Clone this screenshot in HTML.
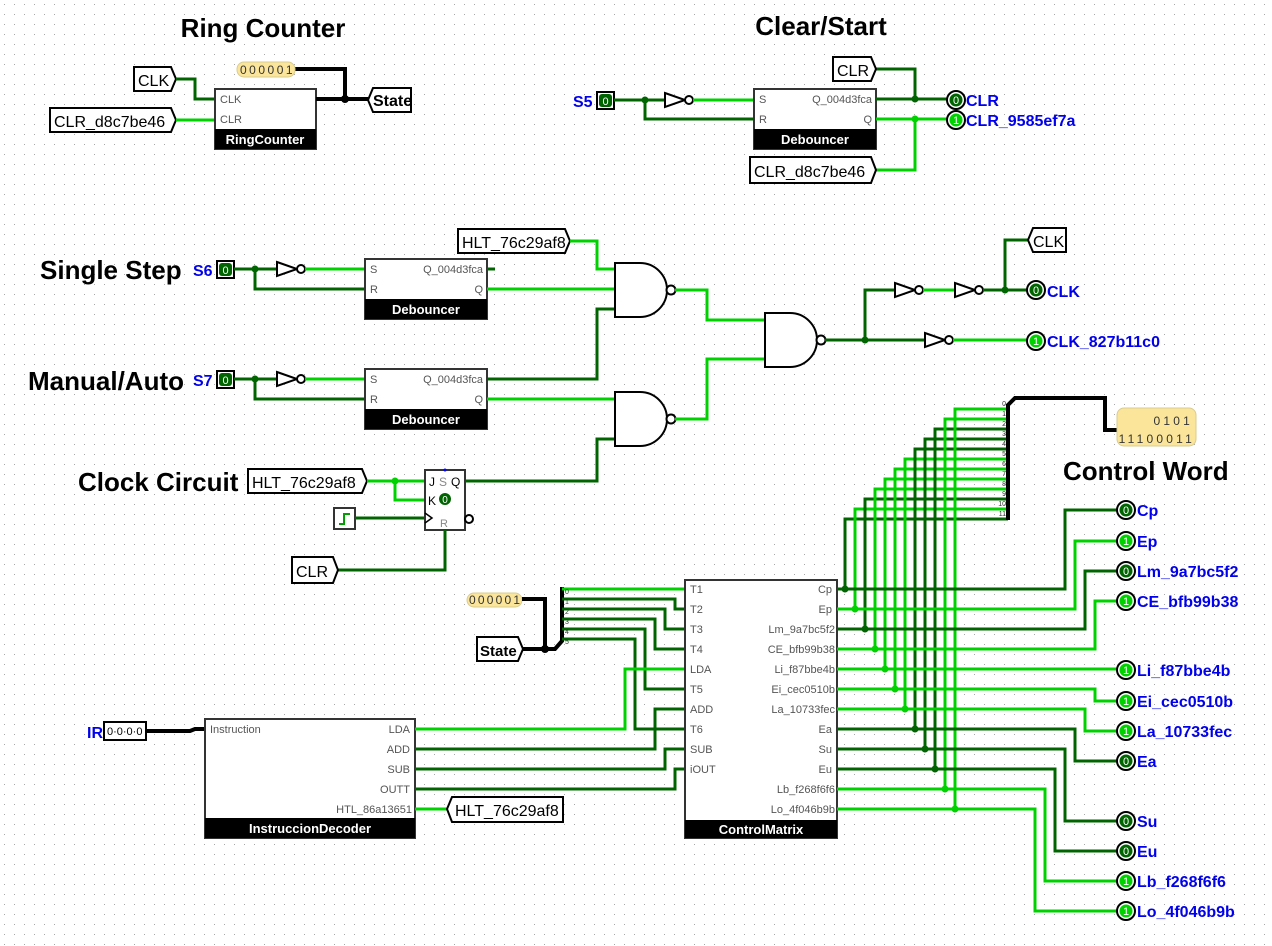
<!DOCTYPE html>
<html><head><meta charset="utf-8"><style>
html,body{margin:0;padding:0;background:#fff}
svg{display:block}
text{font-family:"Liberation Sans",Arial,sans-serif}
.d{fill:none;stroke:#006400;stroke-width:3}
.l{fill:none;stroke:#00d200;stroke-width:3}
.b{fill:none;stroke:#000;stroke-width:4}
.g{fill:#fff;stroke:#000;stroke-width:2}
.box{fill:#fff;stroke:#333;stroke-width:2}
.t{font-size:26px;font-weight:bold;fill:#000}
.tn{font-size:16px;fill:#000}
.bl{font-size:16px;font-weight:bold;fill:#0000ee}
.pl{font-size:11px;fill:#555}
.bar{font-size:13px;font-weight:bold;fill:#fff}
.pr{fill:#fbe59a;stroke:#d8cc90;stroke-width:1}
.sm{font-size:7px;fill:#333}
</style></head><body>
<svg width="1272" height="946" viewBox="0 0 1272 946" xmlns="http://www.w3.org/2000/svg">
<defs><pattern id="grid" width="10" height="10" patternUnits="userSpaceOnUse"><rect x="4" y="4" width="1" height="1" fill="#a8a8a8"/></pattern>
<g id="p0"><circle r="9" fill="#fff" stroke="#000" stroke-width="2"/><circle r="6.5" fill="#006400"/><text y="4" text-anchor="middle" font-size="11" fill="#fff">0</text></g>
<g id="p1"><circle r="9" fill="#fff" stroke="#000" stroke-width="2"/><circle r="6.5" fill="#00d200"/><text y="4" text-anchor="middle" font-size="11" fill="#fff">1</text></g>
</defs>
<rect width="1272" height="946" fill="url(#grid)"/>

<!-- Titles -->
<text class="t" x="263" y="37" text-anchor="middle">Ring Counter</text>
<text class="t" x="821" y="35" text-anchor="middle">Clear/Start</text>
<text class="t" x="40" y="279">Single Step</text>
<text class="t" x="28" y="390">Manual/Auto</text>
<text class="t" x="78" y="491">Clock Circuit</text>
<text class="t" x="1063" y="480">Control Word</text>

<!-- Ring counter -->
<path class="g" d="M134,67 H171 L176,79 L171,91 H134 Z"/><text class="tn" x="138" y="86">CLK</text>
<path class="g" d="M50,108 H171 L176,120 L171,132 H50 Z"/><text class="tn" x="54" y="127">CLR_d8c7be46</text>
<polyline class="d" points="176,79 195,79 195,99 215,99"/>
<polyline class="l" points="176,120 215,120"/>
<rect class="box" x="215" y="89" width="101" height="60"/><rect x="215" y="129" width="101" height="20" fill="#000"/>
<text class="bar" x="265" y="144" text-anchor="middle">RingCounter</text>
<text class="pl" x="220" y="103">CLK</text><text class="pl" x="220" y="123">CLR</text>
<polyline class="b" points="316,99 368,99"/><polyline class="b" points="295,69 345,69 345,99"/><circle cx="345" cy="99" r="4"/>
<rect class="pr" x="237" y="62" width="58" height="15" rx="7"/><text x="240" y="74" font-size="12" fill="#333" letter-spacing="2.5">000001</text>
<path class="g" d="M368,100 L373,88 H411 V112 H373 Z"/><text class="tn" x="373" y="106" font-weight="bold" font-size="15">State</text>

<!-- Clear/Start -->
<text class="bl" x="573" y="107">S5</text>
<rect x="597" y="92" width="17" height="17" fill="#fff" stroke="#000" stroke-width="2"/><rect x="599" y="94" width="13" height="13" rx="3" fill="#006400"/><text x="605.5" y="105" font-size="11" fill="#fff" text-anchor="middle">0</text>
<polyline class="d" points="614,100 665,100"/><polyline class="d" points="645,100 645,119 754,119"/><circle cx="645" cy="100" r="3.5" fill="#006400"/>
<polygon class="g" points="665,93 685,100 665,107"/><circle class="g" cx="689" cy="100" r="4"/>
<polyline class="l" points="693,100 754,100"/>
<rect class="box" x="754" y="89" width="122" height="60"/><rect x="754" y="129" width="122" height="20" fill="#000"/>
<text class="bar" x="815" y="144" text-anchor="middle">Debouncer</text>
<text class="pl" x="759" y="103">S</text><text class="pl" x="759" y="123">R</text><text class="pl" x="872" y="103" text-anchor="end">Q_004d3fca</text><text class="pl" x="872" y="123" text-anchor="end">Q</text>
<polyline class="d" points="876,99 947,99"/><polyline class="d" points="915,99 915,69 876,69"/><circle cx="915" cy="99" r="3.5" fill="#006400"/>
<polyline class="l" points="876,119 947,119"/><polyline class="l" points="915,119 915,170 876,170"/><circle cx="915" cy="119" r="3.5" fill="#00d200"/>
<path class="g" d="M833,57 H871 L876,69 L871,81 H833 Z"/><text class="tn" x="837" y="76">CLR</text>
<path class="g" d="M750,157 H871 L876,170 L871,183 H750 Z"/><text class="tn" x="754" y="177">CLR_d8c7be46</text>
<use href="#p0" x="956" y="100"/><use href="#p1" x="956" y="120"/>
<text class="bl" x="966" y="106">CLR</text><text class="bl" x="966" y="126">CLR_9585ef7a</text>

<!-- Single step -->
<text class="bl" x="193" y="276">S6</text>
<rect x="217" y="261" width="17" height="17" fill="#fff" stroke="#000" stroke-width="2"/><rect x="219" y="263" width="13" height="13" rx="3" fill="#006400"/><text x="225.5" y="274" font-size="11" fill="#fff" text-anchor="middle">0</text>
<polyline class="d" points="234,269 277,269"/><polyline class="d" points="255,269 255,289 365,289"/><circle cx="255" cy="269" r="3.5" fill="#006400"/>
<polygon class="g" points="277,262 297,269 277,276"/><circle class="g" cx="301" cy="269" r="4"/>
<polyline class="l" points="305,269 365,269"/>
<rect class="box" x="365" y="259" width="122" height="60"/><rect x="365" y="299" width="122" height="20" fill="#000"/>
<text class="bar" x="426" y="314" text-anchor="middle">Debouncer</text>
<text class="pl" x="370" y="273">S</text><text class="pl" x="370" y="293">R</text><text class="pl" x="483" y="273" text-anchor="end">Q_004d3fca</text><text class="pl" x="483" y="293" text-anchor="end">Q</text>
<polyline class="d" points="487,269 495,269"/>
<polyline class="l" points="487,289 615,289"/>
<path class="g" d="M458,229 H565 L570,241 L565,253 H458 Z"/><text class="tn" x="462" y="248">HLT_76c29af8</text>
<polyline class="l" points="570,241 597,241 597,269 615,269"/>
<polyline class="d" points="487,379 597,379 597,309 615,309"/>

<!-- Manual/Auto -->
<text class="bl" x="193" y="386">S7</text>
<rect x="217" y="371" width="17" height="17" fill="#fff" stroke="#000" stroke-width="2"/><rect x="219" y="373" width="13" height="13" rx="3" fill="#006400"/><text x="225.5" y="384" font-size="11" fill="#fff" text-anchor="middle">0</text>
<polyline class="d" points="234,379 277,379"/><polyline class="d" points="255,379 255,399 365,399"/><circle cx="255" cy="379" r="3.5" fill="#006400"/>
<polygon class="g" points="277,372 297,379 277,386"/><circle class="g" cx="301" cy="379" r="4"/>
<polyline class="l" points="305,379 365,379"/>
<rect class="box" x="365" y="369" width="122" height="60"/><rect x="365" y="409" width="122" height="20" fill="#000"/>
<text class="bar" x="426" y="424" text-anchor="middle">Debouncer</text>
<text class="pl" x="370" y="383">S</text><text class="pl" x="370" y="403">R</text><text class="pl" x="483" y="383" text-anchor="end">Q_004d3fca</text><text class="pl" x="483" y="403" text-anchor="end">Q</text>
<polyline class="l" points="487,399 615,399"/>
<polyline class="d" points="465,481 597,481 597,439 615,439"/>

<!-- NAND gates -->
<path class="g" d="M615,263 H640 A27,27 0 0 1 640,317 H615 Z"/><circle class="g" cx="671" cy="290" r="4.5"/>
<path class="g" d="M615,392 H640 A27,27 0 0 1 640,446 H615 Z"/><circle class="g" cx="671" cy="419" r="4.5"/>
<polyline class="l" points="675,290 707,290 707,320 765,320"/>
<polyline class="l" points="675,419 707,419 707,359 765,359"/>
<path class="g" d="M765,313 H790 A27,27 0 0 1 790,367 H765 Z"/><circle class="g" cx="821" cy="340" r="4.5"/>
<polyline class="d" points="825,340 925,340"/><polyline class="d" points="865,340 865,290 895,290"/><circle cx="865" cy="340" r="3.5" fill="#006400"/>
<polygon class="g" points="895,283 915,290 895,297"/><circle class="g" cx="919" cy="290" r="4"/>
<polyline class="l" points="923,290 955,290"/>
<polygon class="g" points="955,283 975,290 955,297"/><circle class="g" cx="979" cy="290" r="4"/>
<polyline class="d" points="983,290 1027,290"/><polyline class="d" points="1005,290 1005,240 1028,240"/><circle cx="1005" cy="290" r="3.5" fill="#006400"/>
<path class="g" d="M1028,240 L1033,228 H1066 V252 H1033 Z"/><text class="tn" x="1033" y="247">CLK</text>
<use href="#p0" x="1036" y="290"/><text class="bl" x="1047" y="297">CLK</text>
<polygon class="g" points="925,333 945,340 925,347"/><circle class="g" cx="949" cy="340" r="4"/>
<polyline class="l" points="953,340 1027,340"/>
<use href="#p1" x="1036" y="341"/><text class="bl" x="1047" y="347">CLK_827b11c0</text>

<!-- Clock circuit -->
<path class="g" d="M248,469 H362 L367,481 L362,493 H248 Z"/><text class="tn" x="252" y="488">HLT_76c29af8</text>
<polyline class="l" points="367,481 425,481"/><polyline class="l" points="395,481 395,500 425,500"/><circle cx="395" cy="481" r="3.5" fill="#00d200"/>
<rect x="334" y="508" width="21" height="21" fill="#fff" stroke="#333" stroke-width="2"/>
<path d="M339,524 H344 V514 H350" fill="none" stroke="#00a000" stroke-width="2"/>
<polyline class="d" points="355,518 425,518"/>
<rect class="box" x="425" y="470" width="40" height="60"/>
<text x="429" y="486" font-size="12" fill="#000">J</text><text x="439" y="486" font-size="12" fill="#888">S</text><text x="451" y="486" font-size="12" fill="#000">Q</text>
<text x="428" y="505" font-size="12" fill="#000">K</text><circle cx="445" cy="499" r="6" fill="#006400"/><text x="445" y="503" font-size="10" fill="#fff" text-anchor="middle">0</text>
<polyline points="425,513 432,518 425,523" fill="none" stroke="#000" stroke-width="1.5"/><text x="440" y="527" font-size="11" fill="#888">R</text>
<circle cx="445" cy="470" r="1.5" fill="#00f"/>
<circle class="g" cx="469" cy="519" r="4"/>
<polyline class="d" points="445,530 445,570 338,570"/>
<path class="g" d="M292,557 H333 L338,570 L333,583 H292 Z"/><text class="tn" x="296" y="577">CLR</text>

<!-- State splitter -->
<rect class="pr" x="467" y="593" width="55" height="14" rx="7"/><text x="469" y="604" font-size="12" fill="#333" letter-spacing="2.2">000001</text>
<polyline class="b" points="522,599 545,599 545,649"/>
<path class="g" d="M477,637 H518 L523,649 L518,661 H477 Z"/><text x="480" y="656" font-size="15" font-weight="bold">State</text>
<polyline class="b" points="523,649 555,649 562,641 562,587"/><circle cx="545" cy="649" r="4"/>
<polyline class="l" points="562,589 685,589"/>
<polyline class="d" points="562,599 675,599 675,609 685,609"/>
<polyline class="d" points="562,609 665,609 665,629 685,629"/>
<polyline class="d" points="562,619 655,619 655,649 685,649"/>
<polyline class="d" points="562,629 645,629 645,689 685,689"/>
<polyline class="d" points="562,639 635,639 635,729 685,729"/>
<text class="sm" x="565" y="594">0</text><text class="sm" x="565" y="604">1</text><text class="sm" x="565" y="614">2</text><text class="sm" x="565" y="624">3</text><text class="sm" x="565" y="634">4</text><text class="sm" x="565" y="644">5</text>

<!-- Decoder -->
<text class="bl" x="87" y="738" font-weight="normal">IR</text>
<rect x="104" y="722" width="42" height="18" fill="#fff" stroke="#000" stroke-width="2"/><text x="107" y="735" font-size="11">0·0·0·0</text>
<polyline class="b" points="146,731 190,731 195,729 205,729"/>
<rect class="box" x="205" y="719" width="210" height="119"/><rect x="205" y="818" width="210" height="20" fill="#000"/>
<text class="bar" x="310" y="833" text-anchor="middle">InstruccionDecoder</text>
<text class="pl" x="210" y="733">Instruction</text>
<text class="pl" x="410" y="733" text-anchor="end">LDA</text><text class="pl" x="410" y="753" text-anchor="end">ADD</text><text class="pl" x="410" y="773" text-anchor="end">SUB</text><text class="pl" x="410" y="793" text-anchor="end">OUTT</text><text class="pl" x="412" y="813" text-anchor="end">HTL_86a13651</text>
<polyline class="l" points="415,729 625,729 625,669 685,669"/>
<polyline class="d" points="415,749 655,749 655,709 685,709"/>
<polyline class="d" points="415,769 665,769 665,749 685,749"/>
<polyline class="d" points="415,789 675,789 675,769 685,769"/>
<polyline class="l" points="415,809 447,809"/>
<path class="g" d="M447,809 L452,797 H563 V822 H452 Z"/><text class="tn" x="455" y="816">HLT_76c29af8</text>

<!-- ControlMatrix -->
<rect class="box" x="685" y="580" width="152" height="258"/><rect x="685" y="820" width="152" height="18" fill="#000"/>
<text class="bar" x="761" y="834" text-anchor="middle" font-size="12">ControlMatrix</text>
<g class="pl">
<text x="690" y="593">T1</text><text x="690" y="613">T2</text><text x="690" y="633">T3</text><text x="690" y="653">T4</text><text x="690" y="673">LDA</text><text x="690" y="693">T5</text><text x="690" y="713">ADD</text><text x="690" y="733">T6</text><text x="690" y="753">SUB</text><text x="690" y="773">iOUT</text>
</g>
<g class="pl" text-anchor="end">
<text x="832" y="593">Cp</text><text x="832" y="613">Ep</text><text x="835" y="633">Lm_9a7bc5f2</text><text x="835" y="653">CE_bfb99b38</text><text x="835" y="673">Li_f87bbe4b</text><text x="835" y="693">Ei_cec0510b</text><text x="835" y="713">La_10733fec</text><text x="832" y="733">Ea</text><text x="832" y="753">Su</text><text x="832" y="773">Eu</text><text x="835" y="793">Lb_f268f6f6</text><text x="835" y="813">Lo_4f046b9b</text>
</g>

<!-- Control outputs: verticals to bus -->
<polyline class="d" points="845,589 845,519 1008,519"/><circle cx="845" cy="589" r="3.5" fill="#006400"/>
<polyline class="l" points="855,609 855,509 1008,509"/><circle cx="855" cy="609" r="3.5" fill="#00d200"/>
<polyline class="d" points="865,629 865,499 1008,499"/><circle cx="865" cy="629" r="3.5" fill="#006400"/>
<polyline class="l" points="875,649 875,489 1008,489"/><circle cx="875" cy="649" r="3.5" fill="#00d200"/>
<polyline class="l" points="885,669 885,479 1008,479"/><circle cx="885" cy="669" r="3.5" fill="#00d200"/>
<polyline class="l" points="895,689 895,469 1008,469"/><circle cx="895" cy="689" r="3.5" fill="#00d200"/>
<polyline class="l" points="905,709 905,459 1008,459"/><circle cx="905" cy="709" r="3.5" fill="#00d200"/>
<polyline class="d" points="915,729 915,449 1008,449"/><circle cx="915" cy="729" r="3.5" fill="#006400"/>
<polyline class="d" points="925,749 925,439 1008,439"/><circle cx="925" cy="749" r="3.5" fill="#006400"/>
<polyline class="d" points="935,769 935,429 1008,429"/><circle cx="935" cy="769" r="3.5" fill="#006400"/>
<polyline class="l" points="945,789 945,419 1008,419"/><circle cx="945" cy="789" r="3.5" fill="#00d200"/>
<polyline class="l" points="955,809 955,409 1008,409"/><circle cx="955" cy="809" r="3.5" fill="#00d200"/>
<g class="sm" text-anchor="end">
<text x="1006" y="406">0</text><text x="1006" y="416">1</text><text x="1006" y="426">2</text><text x="1006" y="436">3</text><text x="1006" y="446">4</text><text x="1006" y="456">5</text><text x="1006" y="466">6</text><text x="1006" y="476">7</text><text x="1006" y="486">8</text><text x="1006" y="496">9</text><text x="1006" y="506">10</text><text x="1006" y="516">11</text>
</g>
<polyline class="b" points="1008,520 1008,405 1015,398 1105,398 1105,430 1117,430"/>
<rect class="pr" x="1117" y="408" width="79" height="38" rx="7"/>
<text x="1193" y="425" font-size="12" fill="#333" text-anchor="end" letter-spacing="3.2">0101</text>
<text x="1195" y="443" font-size="12" fill="#333" text-anchor="end" letter-spacing="3.2">11100011</text>

<!-- Routes to output pins -->
<polyline class="d" points="837,589 1065,589 1065,510 1117,510"/>
<polyline class="l" points="837,609 1075,609 1075,541 1117,541"/>
<polyline class="d" points="837,629 1085,629 1085,571 1117,571"/>
<polyline class="l" points="837,649 1095,649 1095,601 1117,601"/>
<polyline class="l" points="837,669 1117,669"/>
<polyline class="l" points="837,689 1095,689 1095,701 1117,701"/>
<polyline class="l" points="837,709 1085,709 1085,731 1117,731"/>
<polyline class="d" points="837,729 1075,729 1075,761 1117,761"/>
<polyline class="d" points="837,749 1065,749 1065,821 1117,821"/>
<polyline class="d" points="837,769 1055,769 1055,851 1117,851"/>
<polyline class="l" points="837,789 1045,789 1045,881 1117,881"/>
<polyline class="l" points="837,809 1035,809 1035,911 1117,911"/>
<use href="#p0" x="1126" y="510"/><use href="#p1" x="1126" y="541"/><use href="#p0" x="1126" y="571"/><use href="#p1" x="1126" y="601"/>
<use href="#p1" x="1126" y="670"/><use href="#p1" x="1126" y="701"/><use href="#p1" x="1126" y="731"/><use href="#p0" x="1126" y="761"/>
<use href="#p0" x="1126" y="821"/><use href="#p0" x="1126" y="851"/><use href="#p1" x="1126" y="881"/><use href="#p1" x="1126" y="911"/>
<g class="bl">
<text x="1137" y="516">Cp</text><text x="1137" y="547">Ep</text><text x="1137" y="577">Lm_9a7bc5f2</text><text x="1137" y="607">CE_bfb99b38</text>
<text x="1137" y="676">Li_f87bbe4b</text><text x="1137" y="707">Ei_cec0510b</text><text x="1137" y="737">La_10733fec</text><text x="1137" y="767">Ea</text>
<text x="1137" y="827">Su</text><text x="1137" y="857">Eu</text><text x="1137" y="887">Lb_f268f6f6</text><text x="1137" y="917">Lo_4f046b9b</text>
</g>
</svg>
</body></html>
